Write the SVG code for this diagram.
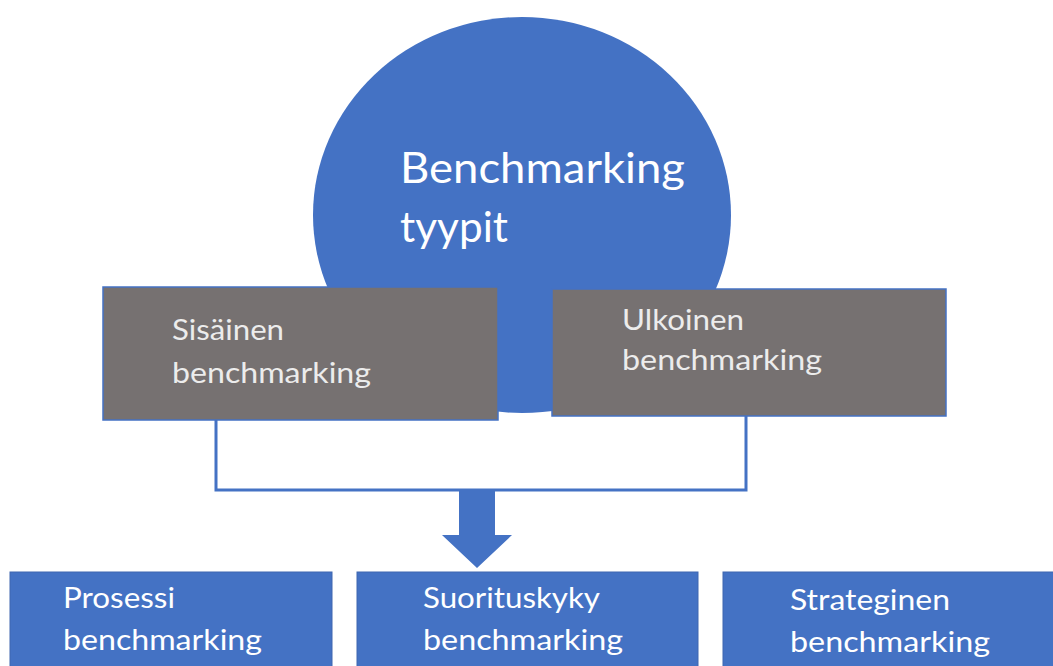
<svg xmlns="http://www.w3.org/2000/svg" width="1053" height="666" viewBox="0 0 1053 666">
<style>
.t{font-family:Lato,"Open Sans","Liberation Sans",sans-serif;fill:#ffffff}
.g{fill:#767171;stroke:#4472c4;stroke-width:1.5}
.b{fill:#4472c4;stroke:#3f67b0;stroke-width:1}
.tg{fill:#ececec}
</style>
<rect width="1053" height="666" fill="#ffffff"/>
<g id="circle">
<ellipse cx="522" cy="215" rx="209" ry="198" fill="#4472c4"/>
<text class="t" font-size="42" x="400" y="183" textLength="285" lengthAdjust="spacingAndGlyphs">Benchmarking</text>
<text class="t" font-size="42" x="400" y="242" textLength="108" lengthAdjust="spacingAndGlyphs">tyypit</text>
</g>
<g id="connectors">
<polyline points="216,420 216,490 746,490 746,416" fill="none" stroke="#4472c4" stroke-width="3"/>
<polygon points="459,490 495,490 495,535 512,535 477,568 442,535 459,535" fill="#4472c4"/>
</g>
<g id="sisainen">
<rect class="g" x="103" y="287" width="395" height="133"/>
<text class="t tg" font-size="29" x="172" y="340" textLength="112" lengthAdjust="spacingAndGlyphs">Sisäinen</text>
<text class="t tg" font-size="29" x="172" y="383" textLength="199" lengthAdjust="spacingAndGlyphs">benchmarking</text>
</g>
<g id="ulkoinen">
<rect class="g" x="552" y="289" width="394" height="127"/>
<text class="t tg" font-size="29" x="622" y="330" textLength="122" lengthAdjust="spacingAndGlyphs">Ulkoinen</text>
<text class="t tg" font-size="29" x="622" y="370" textLength="200" lengthAdjust="spacingAndGlyphs">benchmarking</text>
</g>
<g id="prosessi">
<rect class="b" x="10" y="572" width="322" height="100"/>
<text class="t" font-size="29" x="63" y="608" textLength="112" lengthAdjust="spacingAndGlyphs">Prosessi</text>
<text class="t" font-size="29" x="63" y="650" textLength="199" lengthAdjust="spacingAndGlyphs">benchmarking</text>
</g>
<g id="suorituskyky">
<rect class="b" x="357" y="572" width="341" height="100"/>
<text class="t" font-size="29" x="423" y="608" textLength="177" lengthAdjust="spacingAndGlyphs">Suorituskyky</text>
<text class="t" font-size="29" x="423" y="650" textLength="200" lengthAdjust="spacingAndGlyphs">benchmarking</text>
</g>
<g id="strateginen">
<rect class="b" x="723" y="572" width="340" height="100"/>
<text class="t" font-size="29" x="790" y="610" textLength="160" lengthAdjust="spacingAndGlyphs">Strateginen</text>
<text class="t" font-size="29" x="790" y="652" textLength="200" lengthAdjust="spacingAndGlyphs">benchmarking</text>
</g>
</svg>
